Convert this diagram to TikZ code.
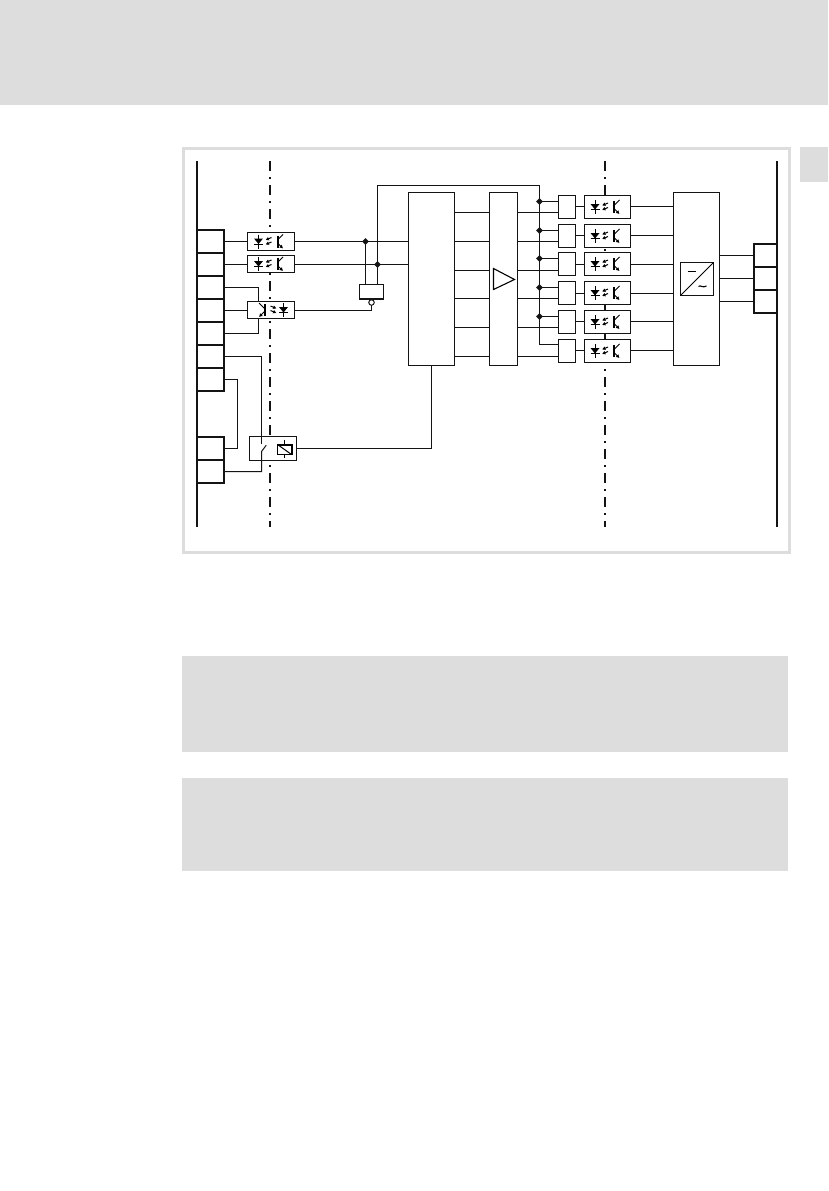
\documentclass[tikz,border=0pt]{standalone}
\usetikzlibrary{calc,arrows.meta,shapes.geometric}
\definecolor{panel}{HTML}{DDDDDD}
\newcommand{\bx}[6][]{%
  \pgfmathsetmacro{\cxv}{(#3+#5)/2}\pgfmathsetmacro{\cyv}{(#4+#6)/2}%
  \pgfmathsetmacro{\wv}{#5-#3}\pgfmathsetmacro{\hv}{#6-#4}%
  \node[boxn,minimum width=\wv pt,minimum height=\hv pt,#1] (#2) at (\cxv,\cyv) {};}
\tikzset{
  wire/.style={line width=1pt,black!92,line cap=rect},
  boxn/.style={draw=black!92,fill=white,line width=1pt,inner sep=0pt,outer sep=0pt},
  term/.style={line width=2pt},
  rail/.style={line width=2pt,black!92},
  sep/.style={line width=2pt,black!92,dash pattern=on 10pt off 6.3pt on 1.5pt off 6.2pt},
  dotn/.style={diamond,aspect=1,fill=black!92,inner sep=0pt,minimum size=7pt,draw=none},
  greyp/.style={fill=panel,draw=none},
  opto/.pic={
    \draw[line width=1pt] (-12.5,-7) -- (-12.5,7);
    \fill (-17,-3) -- (-8,-3) -- (-12.5,2.5) -- cycle;
    \draw[line width=1pt] (-17,2.8) -- (-8,2.8);
    \draw[line width=1pt,-{Latex[length=3.4pt,width=3.8pt]}] (0.5,-4) -- (-5.5,-1.5);
    \draw[line width=1pt,-{Latex[length=3.4pt,width=3.8pt]}] (0.5,0.5) -- (-5.5,3);
    \draw[line width=2pt] (6.5,-6) -- (6.5,6);
    \draw[line width=1pt] (6.5,-1.5) -- (12,-7);
    \draw[line width=1pt,-{Latex[length=3.4pt,width=3.8pt]}] (6.5,1.5) -- (12,7);
  }
}
\begin{document}
\begin{tikzpicture}[x=1pt,y=-1pt]
\useasboundingbox (0,0) rectangle (828,1191);
\fill[white] (0,0) rectangle (828,1191);
% grey page panels
\fill[greyp] (0,0) rectangle (828,105);
\fill[greyp] (800,147) rectangle (828,182);
\fill[greyp] (182,656) rectangle (788,752);
\fill[greyp] (182,778) rectangle (788,870.5);
\draw[panel,line width=3pt] (183.5,148.5) rectangle (789.5,552);
% separators
\coordinate (s1t) at (270,161); \coordinate (s1b) at (270,527);
\coordinate (s2t) at (605,161); \coordinate (s2b) at (605,527);
\draw[sep] (s1t) -- (s1b);
\draw[sep] (s2t) -- (s2b);
% rails
\coordinate (l1) at (197,161); \coordinate (l2) at (197,527);
\coordinate (r1) at (777,161); \coordinate (r2) at (777,527);
\draw[rail] (l1) -- (l2);
\draw[rail] (r1) -- (r2);
% left terminals
\bx[term]{ta}{197}{230}{224}{253}
\bx[term]{tb}{197}{253}{224}{276}
\bx[term]{tc}{197}{276}{224}{299}
\bx[term]{td}{197}{299}{224}{322}
\bx[term]{te}{197}{322}{224}{345}
\bx[term]{tf}{197}{345}{224}{368}
\bx[term]{tg}{197}{368}{224}{391}
\bx[term]{th}{197}{437}{224}{460}
\bx[term]{ti}{197}{460}{224}{483}
% right terminals
\bx[term]{ua}{754}{244}{777}{267}
\bx[term]{ub}{754}{267}{777}{290}
\bx[term]{uc}{754}{290}{777}{313}
\begin{scope}[shift={(0.5,0.5)}]
% left optos
\bx{oa}{247}{232}{294}{250}
\bx{ob}{247}{255}{294}{272}
\bx{oc}{247}{301}{294}{318}
\pic at (oa) {opto};
\pic at (ob) {opto};
\pic[xscale=-1] at (oc) {opto};
% relay
\bx{rl}{249}{436}{296}{460}
% main blocks
\bx{ba}{408}{192}{454}{365}
\bx{bb}{489}{192}{517}{365}
\bx{bc}{673}{192}{719}{365}
\bx{conv}{680}{262}{713}{295}
\bx{gate}{359}{284}{383}{299}
\draw[line width=2pt,black!92] ([yshift=0.5pt]gate.south west) -- ([yshift=0.5pt]gate.south east);
\draw[line width=1pt] (conv.south west) -- (conv.north east);
\draw[line width=1.1pt] (687,271) -- (695,271);
\draw[line width=1.1pt] (698,286) .. controls (700,284) and (702,288) .. (706,285.5);
\draw[line width=1.1pt] (493,268) -- (514,279) -- (493,289) -- cycle;
% output stage boxes
\foreach \n/\yt in {1/195,2/224,3/252,4/281,5/310,6/339}{
  \pgfmathsetmacro{\yb}{\yt+23}
  \bx{d\n}{558}{\yt}{575}{\yb}
  \bx{p\n}{584}{\yt}{630}{\yb}
  \pic at (p\n) {opto};
}
% left wires
\coordinate (wa) at (224,241); \coordinate (wb) at (224,264); \coordinate (wd) at (224,310);
\draw[wire] (wa) -- (wa -| oa.west);
\draw[wire] (wb) -- (wb -| ob.west);
\coordinate (ic1) at (224,287); \coordinate (ic2) at (258,287);
\coordinate (ie1) at (224,333); \coordinate (ie2) at (258,333);
\draw[wire] (ic1) -- (ic2) -- (ic2 |- oc.north);
\draw[wire] (ie1) -- (ie2) -- (ie2 |- oc.south);
\draw[wire] (wd) -- (wd -| oc.west);
% opto to block a
\coordinate (j1) at (365,241);
\coordinate (j2) at (377,264);
\draw[wire] (j1 -| oa.east) -- (j1 -| ba.west);
\draw[wire] (j2 -| ob.east) -- (j2 -| ba.west);
\draw[wire] (j1) -- (j1 |- gate.north);
\draw[wire] (j2) -- (j2 |- gate.north);
\node[dotn] at (j1) {};
\node[dotn] at (j2) {};
% top bus
\coordinate (bus1) at (377,185); \coordinate (bus2) at (539,185); \coordinate (bus3) at (539,344);
\draw[wire] (j2) -- (bus1) -- (bus2) -- (bus3) -- (bus3 -| d6.west);
% inverter bubble
\node[circle,draw=black!92,fill=white,line width=1pt,minimum size=5.5pt,inner sep=0pt] (bub) at (371,302) {};
\coordinate (oc2) at (371,310);
\draw[wire] (oc2 -| oc.east) -- (oc2) -- (bub.south);
% blocks a-b
\foreach \y in {212,241,270,298,327,356}{
  \coordinate (m) at (454,\y);
  \draw[wire] (m) -- (m -| bb.west);
  \coordinate (m) at (517,\y);
  \draw[wire] (m) -- (m -| d1.west);
}
% bus taps
\foreach \y in {201,230,258,287,316}{
  \coordinate (m) at (539,\y);
  \draw[wire] (m) -- (m -| d1.west);
  \node[dotn] at (m) {};
}
% d to p, p to c
\foreach \n/\y in {1/206,2/235,3/264,4/293,5/321,6/350}{
  \coordinate (m) at (575,\y);
  \draw[wire] (m) -- (m -| p\n.west);
  \coordinate (m) at (630,\y);
  \draw[wire] (m) -- (m -| bc.west);
}
% right wires
\foreach \y/\t in {255/ua,278/ub,301/uc}{
  \coordinate (m) at (719,\y);
  \draw[wire] (m) -- (m -| \t.west);
}
% relay wiring
\coordinate (k1) at (224,356); \coordinate (k2) at (261,356); \coordinate (k3) at (261,443);
\coordinate (k4) at (261,451); \coordinate (k5) at (265.5,445); \coordinate (k6) at (261,471); \coordinate (k7) at (224,471);
\draw[wire] (k1) -- (k2) -- (k3);
\draw[wire] (k5) -- (k4) -- (k6) -- (k7);
\coordinate (g1) at (224,379); \coordinate (g2) at (237,379); \coordinate (g3) at (237,448); \coordinate (g4) at (224,448);
\draw[wire] (g1) -- (g2) -- (g3) -- (g4);
% coil
\coordinate (cnw) at (277,444); \coordinate (cse) at (291,454);
\draw[line width=1pt] (284,439) -- (284,444) (284,454) -- (284,457);
\draw[line width=1.1pt] (cnw) rectangle (cse);
\draw[line width=2pt] (cnw) -- (cnw -| cse) -- (cse);
\draw[line width=1pt] (cnw) -- (cse);
% relay to block a
\coordinate (q) at (431,448);
\draw[wire] (q -| rl.east) -- (q) -- (ba.south -| q);
\end{scope}
\end{tikzpicture}
\end{document}
